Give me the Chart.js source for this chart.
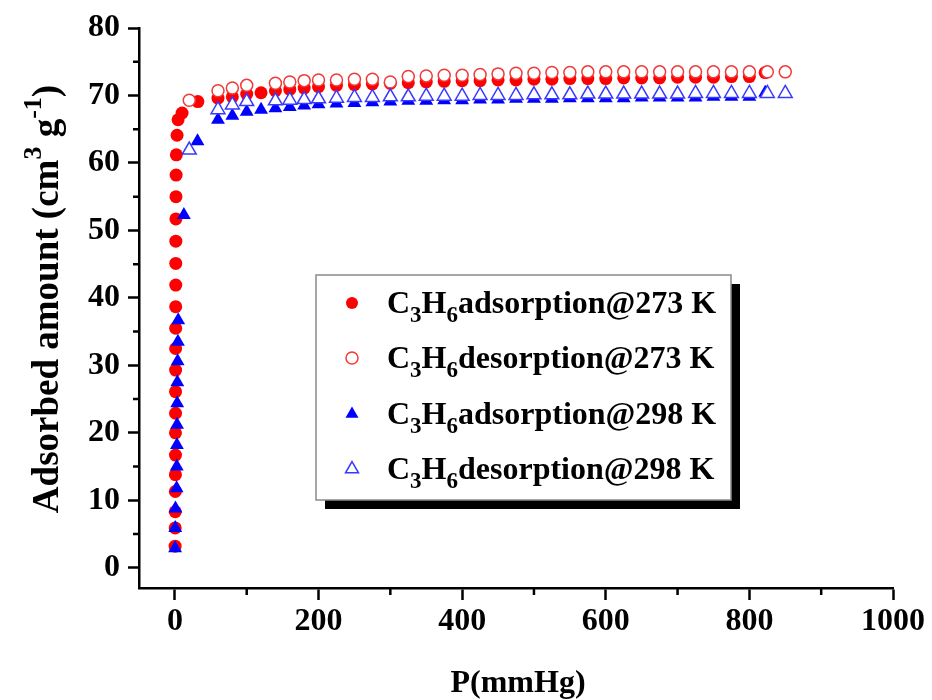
<!DOCTYPE html>
<html>
<head>
<meta charset="utf-8">
<script src="https://cdn.jsdelivr.net/npm/chart.js@4.4.1/dist/chart.umd.min.js"></script>
<style>
  html, body { margin: 0; padding: 0; background: #fff; }
  #wrap { width: 932px; height: 700px; }
</style>
</head>
<body>
<div id="wrap"><canvas id="isotherm" width="932" height="700"></canvas></div>
<script>
// C3H6 isotherms, pressure in mmHg, uptake in cm3/g
const ads273P = [0.3, 0.4, 0.5, 0.6, 0.7, 0.8, 0.8, 0.9, 0.9, 1.0, 1.0, 1.1, 1.1, 1.2, 1.2, 1.3, 1.4, 1.5, 1.7, 2.0, 3.0, 4.4, 10,
  32, 60, 80, 100, 120, 140, 160, 180, 200,
  225, 250, 275, 300, 325, 350, 375, 400, 425, 450, 475, 500, 525, 550, 575, 600, 625, 650, 675, 700, 725, 750, 775, 800, 822];
const ads273V = [3.2, 5.9, 8.3, 11.3, 13.8, 16.7, 20.0, 22.9, 26.1, 29.3, 32.5, 35.5, 38.7, 41.9, 45.1, 48.4, 51.7, 55.0, 58.2, 61.2, 64.1, 66.4, 67.4,
  69.1, 69.6, 69.8, 70.2, 70.4, 70.7, 70.9, 71.1, 71.3,
  71.5, 71.6, 71.7, 71.8, 71.9, 72.0, 72.1, 72.2, 72.2, 72.3, 72.3, 72.4, 72.4, 72.5, 72.5, 72.5, 72.6, 72.6, 72.6, 72.7, 72.7, 72.7, 72.8, 72.8, 73.4];

const des273P = [850, 825, 800, 775, 750, 725, 700, 675, 650, 625, 600, 575, 550, 525, 500, 475, 450, 425, 400, 375, 350, 325, 300, 275, 250, 225, 200, 180, 160, 140, 100, 80, 60, 20];
const des273V = [73.5, 73.5, 73.5, 73.5, 73.5, 73.5, 73.5, 73.5, 73.5, 73.5, 73.5, 73.5, 73.4, 73.4, 73.3, 73.3, 73.2, 73.1, 73.0, 73.0, 72.9, 72.8, 72.0, 72.4, 72.4, 72.3, 72.3, 72.2, 72.0, 71.8, 71.5, 71.1, 70.7, 69.3];

const ads298P = [0.3, 0.5, 0.8, 2.4, 2.6, 2.8, 3.0, 3.2, 3.4, 3.8, 4.2, 4.6, 12.5, 31.5,
  60, 80, 100, 120, 140, 160, 180, 200,
  225, 250, 275, 300, 325, 350, 375, 400, 425, 450, 475, 500, 525, 550, 575, 600, 625, 650, 675, 700, 725, 750, 775, 800, 822];
const ads298V = [2.9, 5.9, 8.8, 11.8, 15.0, 18.2, 21.2, 24.4, 27.5, 30.6, 33.5, 36.7, 52.3, 63.2,
  66.4, 67.0, 67.6, 67.9, 68.1, 68.3, 68.5, 68.7,
  68.8, 68.9, 69.0, 69.1, 69.2, 69.2, 69.3, 69.3, 69.4, 69.4, 69.5, 69.5, 69.5, 69.6, 69.6, 69.6, 69.6, 69.7, 69.7, 69.7, 69.7, 69.8, 69.8, 69.8, 70.4];

const des298P = [850, 825, 800, 775, 750, 725, 700, 675, 650, 625, 600, 575, 550, 525, 500, 475, 450, 425, 400, 375, 350, 325, 300, 275, 250, 225, 200, 180, 160, 140, 100, 80, 60, 20];
const des298V = [70.3, 70.3, 70.3, 70.3, 70.3, 70.3, 70.2, 70.2, 70.2, 70.2, 70.2, 70.2, 70.1, 70.1, 70.1, 70.0, 70.0, 70.0, 69.9, 69.9, 69.9, 69.8, 69.8, 69.7, 69.7, 69.6, 69.5, 69.4, 69.3, 69.2, 69.1, 68.6, 67.9, 61.9];

// legend text: [formula part, subscript, part, subscript, rest]
const seriesLabels = [
  ['C', '3', 'H', '6', 'adsorption@273 K'],
  ['C', '3', 'H', '6', 'desorption@273 K'],
  ['C', '3', 'H', '6', 'adsorption@298 K'],
  ['C', '3', 'H', '6', 'desorption@298 K']
];
const xTitle = 'P(mmHg)';
const yTitleParts = [['Adsorbed amount (cm', 0], ['3', 1], [' g', 0], ['-1', 1], [')', 0]];

const SERIF = "'Liberation Serif', 'Times New Roman', serif";

function pts(xs, ys) {
  return xs.map((x, i) => ({ x: x, y: ys[i] }));
}

// minor ticks (5 on y, 100 on x) drawn against the chart's scales
const minorTicks = {
  id: 'minorTicks',
  afterDraw(chart) {
    const ctx = chart.ctx;
    const xs = chart.scales.x, ys = chart.scales.y;
    const area = chart.chartArea;
    ctx.save();
    ctx.strokeStyle = '#000';
    ctx.lineWidth = 2.5;
    ctx.beginPath();
    for (let v = 5; v < 80; v += 10) {
      const py = ys.getPixelForValue(v);
      ctx.moveTo(area.left, py);
      ctx.lineTo(area.left - 6, py);
    }
    for (let v = 100; v < 1000; v += 200) {
      const px = xs.getPixelForValue(v);
      ctx.moveTo(px, area.bottom);
      ctx.lineTo(px, area.bottom + 7);
    }
    ctx.stroke();
    ctx.restore();
  }
};

// axis titles, with superscripts on the y title
const axisTitles = {
  id: 'axisTitles',
  afterDraw(chart) {
    const ctx = chart.ctx;
    const area = chart.chartArea;
    ctx.save();
    ctx.fillStyle = '#000';
    ctx.textBaseline = 'alphabetic';
    ctx.font = 'bold 32px ' + SERIF;
    ctx.textAlign = 'center';
    ctx.fillText(xTitle, (area.left + area.right) / 2 + 2, 692);

    const big = 'bold 37px ' + SERIF, small = 'bold 26px ' + SERIF;
    ctx.textAlign = 'left';
    let total = 0;
    yTitleParts.forEach(([t, sup]) => {
      ctx.font = sup ? small : big;
      total += ctx.measureText(t).width;
    });
    ctx.translate(58, 299 + total / 2);
    ctx.rotate(-Math.PI / 2);
    let cx = 0;
    yTitleParts.forEach(([t, sup]) => {
      ctx.font = sup ? small : big;
      ctx.fillText(t, cx, sup ? -17 : 0);
      cx += ctx.measureText(t).width;
    });
    ctx.restore();
  }
};

// framed legend with drop shadow
const boxLegend = {
  id: 'boxLegend',
  afterDraw(chart) {
    const ctx = chart.ctx;
    const bx = 316, by = 275, bw = 415, bh = 225, sh = 9;
    ctx.save();
    ctx.fillStyle = '#000';
    ctx.fillRect(bx + sh, by + sh, bw, bh);
    ctx.fillStyle = '#fff';
    ctx.fillRect(bx, by, bw, bh);
    ctx.strokeStyle = '#8a8a8a';
    ctx.lineWidth = 1.5;
    ctx.strokeRect(bx, by, bw, bh);

    const rows = [303, 358, 414, 469];
    chart.data.datasets.forEach((ds, i) => {
      const y = rows[i];
      ctx.fillStyle = ds.backgroundColor;
      ctx.strokeStyle = ds.borderColor;
      ctx.lineWidth = ds.borderWidth;
      Chart.helpers.drawPoint(ctx, {
        pointStyle: ds.pointStyle,
        radius: ds.pointStyle === 'triangle' ? 7.5 : 6,
        borderWidth: ds.borderWidth,
        rotation: 0
      }, 352, y);

      const parts = seriesLabels[i];
      let x = 387;
      const base = y + 10;
      ctx.fillStyle = '#000';
      ctx.textAlign = 'left';
      ctx.textBaseline = 'alphabetic';
      parts.forEach((t, k) => {
        const sub = k === 1 || k === 3;
        ctx.font = sub ? 'bold 23px ' + SERIF : 'bold 32px ' + SERIF;
        ctx.fillText(t, x, sub ? base + 9 : base);
        x += ctx.measureText(t).width;
      });
    });
    ctx.restore();
  }
};

const tickFont = { family: SERIF, size: 32, weight: 'bold' };

const chart = new Chart(document.getElementById('isotherm'), {
  type: 'scatter',
  data: {
    datasets: [
      {
        label: 'ads273', data: pts(ads273P, ads273V), order: 4,
        pointStyle: 'circle', pointRadius: 6.5,
        backgroundColor: '#ff0000', borderColor: '#ff0000', borderWidth: 0
      },
      {
        label: 'des273', data: pts(des273P, des273V), order: 3,
        pointStyle: 'circle', pointRadius: 6,
        backgroundColor: '#ffffff', borderColor: '#f03a3a', borderWidth: 1.5
      },
      {
        label: 'ads298', data: pts(ads298P, ads298V), order: 2,
        pointStyle: 'triangle', pointRadius: 8,
        backgroundColor: '#0000ff', borderColor: '#0000ff', borderWidth: 0
      },
      {
        label: 'des298', data: pts(des298P, des298V), order: 1,
        pointStyle: 'triangle', pointRadius: 8,
        backgroundColor: '#ffffff', borderColor: '#3838ff', borderWidth: 1.5
      }
    ]
  },
  options: {
    responsive: false,
    animation: false,
    events: [],
    layout: { padding: { top: 28, right: 39, left: 0, bottom: 0 } },
    plugins: { legend: { display: false }, tooltip: { enabled: false } },
    scales: {
      x: {
        type: 'linear', min: -50, max: 1000,
        border: { color: '#000', width: 2.5 },
        grid: { drawOnChartArea: false, drawTicks: true, tickLength: 12, tickColor: '#000', tickWidth: 2.5 },
        ticks: { stepSize: 200, includeBounds: false, color: '#000', font: tickFont, padding: 3, maxRotation: 0,
          callback: v => String(v) },
        afterFit(s) { s.height = 112; }
      },
      y: {
        type: 'linear', min: -3, max: 80,
        border: { color: '#000', width: 2.5 },
        grid: { drawOnChartArea: false, drawTicks: true, tickLength: 11, tickColor: '#000', tickWidth: 2.5 },
        ticks: { stepSize: 10, includeBounds: false, color: '#000', font: tickFont, padding: 8,
          callback: v => String(v) },
        afterFit(s) { s.width = 139; }
      }
    }
  },
  plugins: [minorTicks, axisTitles, boxLegend]
});
</script>
</body>
</html>
